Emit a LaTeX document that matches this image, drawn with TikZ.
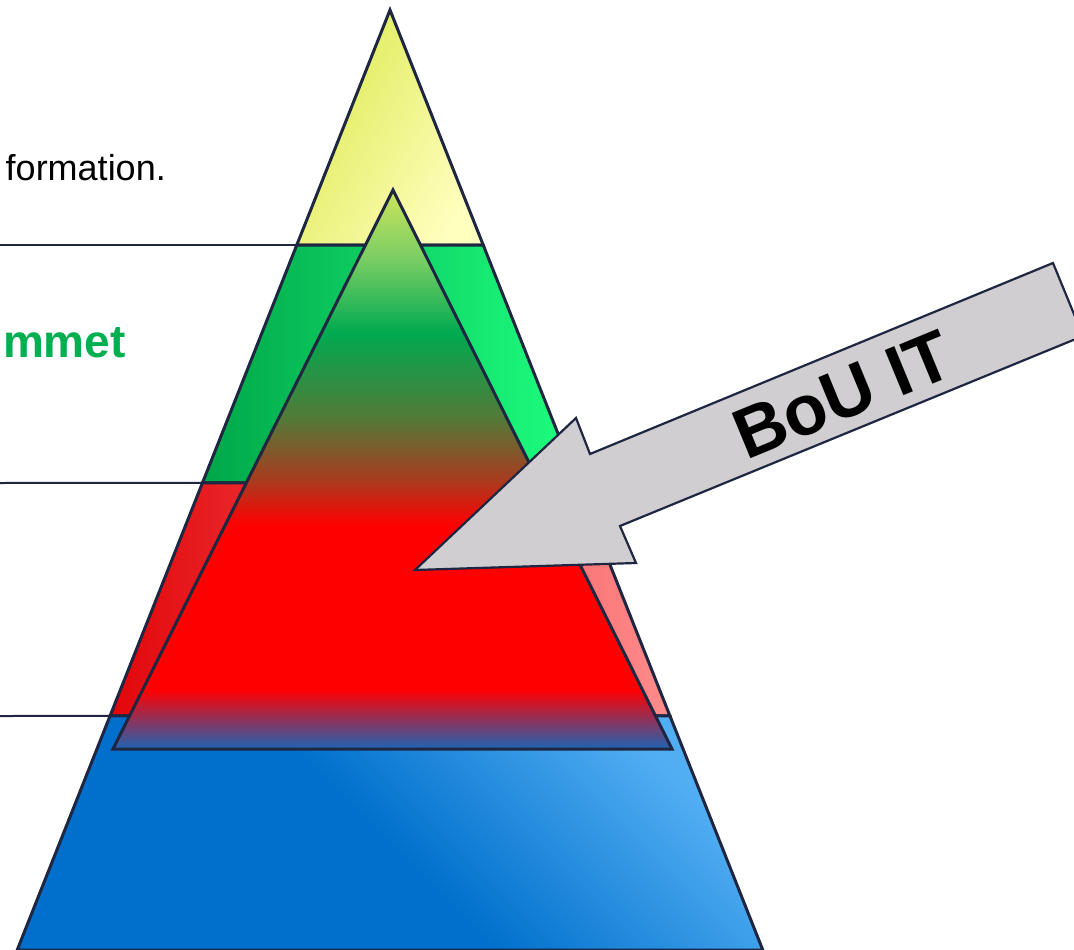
\documentclass[tikz,border=0pt]{standalone}
\usepackage{fontspec}
\setmainfont{Liberation Sans}
\usetikzlibrary{calc}

\definecolor{rim}{RGB}{30,38,66}
\definecolor{yelA}{RGB}{222,234,84}
\definecolor{yelB}{RGB}{255,255,190}
\definecolor{grnA}{RGB}{0,166,72}
\definecolor{grnB}{RGB}{30,255,128}
\definecolor{redA}{RGB}{226,6,10}
\definecolor{redB}{RGB}{255,140,140}
\definecolor{bluA}{RGB}{0,112,204}
\definecolor{bluB}{RGB}{82,174,243}
\definecolor{arrowgray}{RGB}{208,206,208}
\definecolor{officegreen}{RGB}{0,176,80}
\definecolor{inTop}{RGB}{205,228,90}
\definecolor{inLime}{RGB}{120,205,100}
\definecolor{inGreen}{RGB}{0,170,80}
\definecolor{inOlive}{RGB}{85,120,55}
\definecolor{inBrown}{RGB}{170,58,30}
\definecolor{inRed}{RGB}{255,0,0}
\definecolor{inBlue}{RGB}{30,100,180}

\pgfdeclareverticalshading{innerfade}{100bp}{color(0bp)=(inBlue); color(25bp)=(inBlue);
  color(30.3bp)=(inRed); color(45bp)=(inRed); color(49bp)=(inBrown); color(54.4bp)=(inOlive);
  color(62.2bp)=(inGreen); color(68.7bp)=(inLime); color(75bp)=(inTop); color(100bp)=(inTop)}
\pgfdeclareverticalshading{bluefade}{100bp}{color(0bp)=(bluA); color(56bp)=(bluA);
  color(73bp)=(bluB); color(100bp)=(bluB)}

\begin{document}
\begin{tikzpicture}[x=1pt, y=-1pt,
                    band/.style     ={draw=rim, line width=3pt},
                    guide/.style    ={draw=rim, line width=2pt},
                    inner/.style    ={draw=rim, line width=3pt, shading=innerfade},
                    bigarrow/.style ={draw=rim, line width=2.2pt, fill=arrowgray, line join=miter},
                    note/.style     ={anchor=base east, inner sep=0}]

      \useasboundingbox (0,0) rectangle (1074,950);
      \clip (0,0) rectangle (1074,950);

      \coordinate (apex) at (390,10);
      \coordinate (bL)   at (17.2,950);
      \coordinate (bR)   at (762.8,950);
      \coordinate (yL)   at ($(apex)!.25!(bL)$);
      \coordinate (yR)   at ($(apex)!.25!(bR)$);
      \coordinate (gL)   at ($(apex)!.503!(bL)$);
      \coordinate (gR)   at ($(apex)!.503!(bR)$);
      \coordinate (rL)   at ($(apex)!.751!(bL)$);
      \coordinate (rR)   at ($(apex)!.751!(bR)$);

      \path[band, left color=yelA, right color=yelB, shading angle=60]  (apex) -- (yR) -- (yL) -- cycle;
      \path[band, left color=grnA, right color=grnB]                     (yL) -- (yR) -- (gR) -- (gL) -- cycle;
      \path[band, left color=redA, right color=redB]                     (gL) -- (gR) -- (rR) -- (rL) -- cycle;
      \begin{scope}
        \clip (rL) -- (rR) -- (bR) -- (bL) -- cycle;
        \shade[shading=bluefade, shading angle=-45] (17,600) rectangle (763,1346);
      \end{scope}
      \path[band] (rL) -- (rR) -- (bR) -- (bL) -- cycle;

      \coordinate (line1) at (0,245);
      \coordinate (line2) at (0,483);
      \coordinate (line3) at (0,716);
      \path[guide] (line1) -- (yL);
      \path[guide] (line2) -- (gL);
      \path[guide] (line3) -- (rL);

      \coordinate (iTop) at (393,190);
      \coordinate (iL)   at (113,749);
      \coordinate (iR)   at (672,749);
      \path[inner] (iTop) -- (iR) -- (iL) -- cycle;

      \coordinate (tip)    at (415,570);
      \coordinate (headU)  at (576,418);
      \coordinate (neckU)  at (590,454);
      \coordinate (tailU)  at (1053,263);
      \coordinate (tailL)  at (1083,336);
      \coordinate (neckL)  at (620,526);
      \coordinate (headL)  at (636,563);
      \path[bigarrow] (tip) -- (headU) -- (neckU) -- (tailU) -- (tailL) -- (neckL) -- (headL) -- cycle;

      \node[rotate=22.4, inner sep=0, font=\fontsize{71}{71}\selectfont\bfseries] (bou) at (843,395) {BoU IT};
      \node[note, font=\fontsize{36}{36}\selectfont] (info) at (166,180) {formation.};
      \node[note, text=officegreen, font=\fontsize{46}{46}\selectfont\bfseries] (summit) at (126,357) {mmet};
    \end{tikzpicture}
\end{document}
